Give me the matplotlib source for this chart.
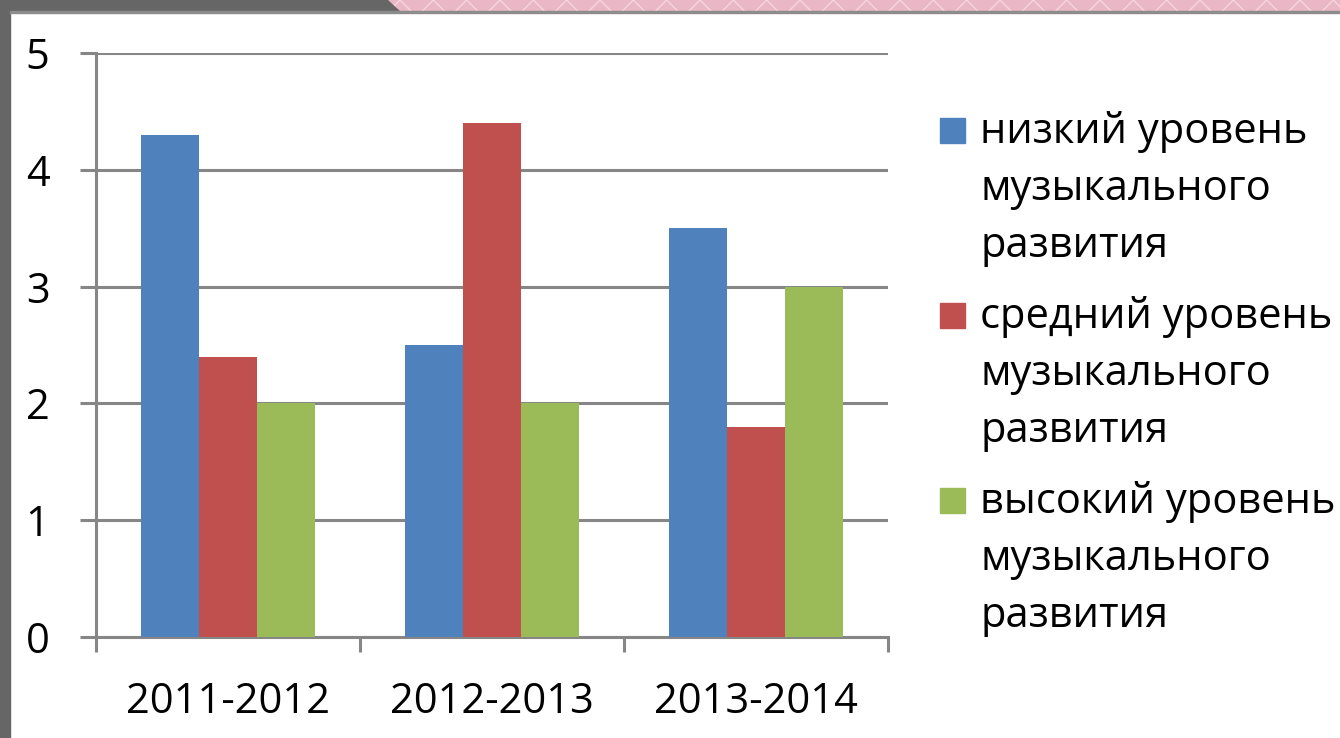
import matplotlib
matplotlib.use("Agg")
import matplotlib.pyplot as plt
from matplotlib.patches import Rectangle, Polygon
import numpy as np

plt.rcParams["font.family"] = ["Open Sans", "DejaVu Sans"]

years = ["2011-2012", "2012-2013", "2013-2014"]
series_names = [
    "низкий уровень\nмузыкального\nразвития",
    "средний уровень\nмузыкального\nразвития",
    "высокий уровень\nмузыкального\nразвития",
]
low = [4.3, 2.5, 3.5]
mid = [2.4, 4.4, 1.8]
high = [2.0, 2.0, 3.0]
colors = ["#4F81BD", "#C0504D", "#9BBB59"]
grid_gray = "#868686"

W, H = 1340, 738
fig = plt.figure(figsize=(W / 100, H / 100), dpi=100)

# slide frame: dark band on top/left, pink patterned band top right
fig.patches.append(Rectangle((0, 0), 10 / W, 1, transform=fig.transFigure,
                             color="#666666", zorder=0))
fig.patches.append(Polygon([(0, 1), (388 / W, 1), (400 / W, 1 - 11 / H), (0, 1 - 11 / H)],
                           closed=True, transform=fig.transFigure,
                           color="#666666", zorder=0))
fig.patches.append(Polygon([(388 / W, 1), (1, 1), (1, 1 - 11 / H), (400 / W, 1 - 11 / H)],
                           closed=True, transform=fig.transFigure,
                           facecolor="#E9B7C6", edgecolor="#F6D6E0", hatch="x",
                           linewidth=0, zorder=0))
fig.patches.append(Rectangle((10 / W, 1 - 13 / H), 1, 2 / H, transform=fig.transFigure,
                             color="#8C8C8C", zorder=0))

ax = fig.add_axes([96 / W, 1 - 637 / H, (888 - 96) / W, (637 - 53) / H])

x = np.arange(len(years))
bw = 0.22
for i, (vals, c) in enumerate(zip([low, mid, high], colors)):
    ax.bar(x + (i - 1) * bw, vals, width=bw, color=c, zorder=3)

ax.set_xlim(-0.5, 2.5)
ax.set_ylim(0, 5)
ax.set_yticks(range(6))
ax.yaxis.grid(True, color=grid_gray, linewidth=2.2)
ax.set_axisbelow(True)

for s in ["top", "right"]:
    ax.spines[s].set_visible(False)
for s in ["left", "bottom"]:
    ax.spines[s].set_color(grid_gray)
    ax.spines[s].set_linewidth(2.2)

ax.set_xticks(x)
ax.set_xticklabels(years)
ax.set_xticks([-0.5, 0.5, 1.5, 2.5], minor=True)
ax.tick_params(axis="x", which="major", length=0, pad=32, labelsize=30)
ax.tick_params(axis="x", which="minor", length=11, width=2.2, color=grid_gray)
ax.tick_params(axis="y", length=11.5, width=2.2, color=grid_gray, pad=22, labelsize=30)

# legend: square aligned with first line of each label
for i, (name, c) in enumerate(zip(series_names, colors)):
    base = 143 + i * 185
    fig.patches.append(Rectangle((940 / W, 1 - base / H), 25 / W, 25 / H,
                                 transform=fig.transFigure, color=c))
    lines = name.split("\n")
    for j, ln in enumerate(lines):
        fig.text(980 / W, 1 - (base + j * 57) / H, ln, fontsize=30,
                 va="baseline", ha="left")

fig.savefig("out.png", dpi=100)
